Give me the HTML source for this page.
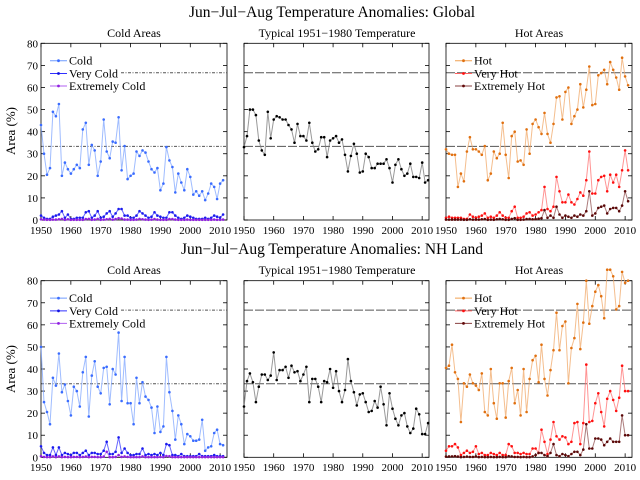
<!DOCTYPE html>
<html><head><meta charset="utf-8"><style>
html,body{margin:0;padding:0;background:#fff;}
svg{display:block;font-family:"Liberation Serif",serif;}
</style></head><body>
<svg id="chart" width="640" height="480" viewBox="0 0 640 480" xmlns="http://www.w3.org/2000/svg">
<text x="332" y="17" font-size="15.5" text-anchor="middle">Jun−Jul−Aug Temperature Anomalies: Global</text>
<text x="332" y="254" font-size="15.5" text-anchor="middle">Jun−Jul−Aug Temperature Anomalies: NH Land</text>
<text x="134" y="37" font-size="12" text-anchor="middle">Cold Areas</text>
<text x="337" y="37" font-size="12" text-anchor="middle">Typical 1951−1980 Temperature</text>
<text x="539" y="37" font-size="12" text-anchor="middle">Hot Areas</text>
<text x="134" y="274" font-size="12" text-anchor="middle">Cold Areas</text>
<text x="337" y="274" font-size="12" text-anchor="middle">Typical 1951−1980 Temperature</text>
<text x="539" y="274" font-size="12" text-anchor="middle">Hot Areas</text>
<text transform="translate(15,131) rotate(-90)" font-size="13" text-anchor="middle">Area (%)</text>
<text transform="translate(15,369) rotate(-90)" font-size="13" text-anchor="middle">Area (%)</text>
<g id="plots"></g>
</svg>
<script>
const yTicks = [0,10,20,30,40,50,60,70,80];
const xTicks = [1950,1960,1970,1980,1990,2000,2010];

const gColdVals = [43,30,20.5,23.5,49,47,52.5,20,26,23,21,23,25,23.5,41,44,25,34,31.5,20,26.5,45.5,31,28,35.5,35,46.5,22.5,33.5,18.5,20,21,31,29,31.5,30.5,26.5,23,21.5,23.5,13.5,16.5,33,27,24,12.5,21,17,13.5,23,19.5,11.5,13,11,13,9,12,16.5,15,9.5,16.5,18];
const gVeryColdVals = [2,1,0.5,0.5,1.5,2,2.5,4,1,2.5,0.5,0.5,1,1,1,3.5,4,1,2,4,1,1.5,3,4,1.5,3,5,5,2,2,1,1,2,4,3,2,1,1.5,3.5,2,1.5,1,1,3.5,3.5,2,1,0.5,1,2,1.5,1,0.5,0.5,0.5,1,0.5,1,2,1.5,1,2.5];
const gExtColdVals = [0.3,0.2,0.1,0.1,0.2,0.2,0.3,0.5,0.1,0.3,0.1,0.1,0.1,0.1,0.1,0.4,0.5,0.1,0.2,0.5,0.1,0.2,0.3,0.5,0.2,0.4,0.8,0.7,0.2,0.2,0.1,0.1,0.2,0.5,0.3,0.2,0.1,0.2,0.4,0.2,0.1,0.1,0.1,0.4,0.4,0.2,0.1,0.1,0.1,0.2,0.1,0.1,0.1,0.1,0.1,0.1,0.1,0.1,0.2,0.1,0.1,0.2];
const gTypicalVals = [33,38,50,50,47.5,36,31.5,29.5,49,37,45.5,47,46.5,45.5,45.5,43,41,35,43.5,38,38,36,44,35,31,32,37.5,37.5,28.5,36,37,38,35,36.5,29.5,22,29,34.5,30,21.5,22,30,28.5,23.5,23.5,25.5,25.5,25.5,27.5,23.5,17,25,27.5,23,20,21,25.5,19.5,19.5,19,26,17,18];
const gHotVals = [32,30,29.5,29.5,15,21,17.5,31,37.5,32,32,31,29.5,33.5,18,21,31,28,30,44,29.5,19,38,40,26.5,27,25,41,30,43.5,45.5,42,39,48.5,39,35,43.5,55.5,56,45.5,58,60,43.5,47,50,61.5,51,59,69.5,52,52.5,65.5,66.5,68,61.5,71.5,68,64.5,59,73.5,65,61];
const gVeryHotVals = [1,1.5,1,1,1,1,0.5,0.5,2.5,1.5,1,1.5,2,3,1,1.5,1,2,3.5,2,1,1,4,6,1,1,1.5,3,3.5,2,2.5,3.5,4.5,15,5,4,6,19.5,13,8,8,11.5,8,7,9.5,12.5,11,18,31,12,12,18,19.5,20,13,20.5,17,20.5,15,22.5,31.5,22.5];
const gExtHotVals = [0.2,0.2,0.2,0.2,0.2,0.2,0.1,0.1,0.3,0.2,0.2,0.2,0.3,0.4,0.1,0.2,0.1,0.3,0.5,0.3,0.1,0.1,0.5,0.8,0.1,0.1,0.2,0.4,0.5,0.3,0.4,0.6,0.8,4.5,1,2,1,6,2.5,1,2,1.5,1,2,1.5,2.5,2,4,13,2,3,5.5,6,6.5,3,5,5.5,5.5,4,6.5,13,8.5];

const nColdVals = [50,25,20.5,15,36,32.5,47,29.5,33,25.5,19,32,30,23,38.5,45.5,18.5,37,43.5,32,29,40.5,41,24,40,37.5,56.5,25.5,45.5,24.5,24.5,15,36,24.5,34,27.5,26,22.5,11,23,11.5,14,45.5,29.5,21,8,19,15,6,10.5,9.5,7.5,7.5,8,17,3,4.5,5,11,12.5,6,5.5];
const nVeryColdVals = [5,2,1,1,4.5,1,4.5,1,2,1.5,1,2,2,1,2,3,1,2,2,1.5,1.5,3,7,1.5,1.5,2.5,9,2,4,2,1,1,1.5,1.5,4,1,1.5,1,1.5,1,2,1,6,5.5,1,1,0.5,1.5,0.5,0.5,0.5,0.5,0.5,1.5,0.5,0.5,0.5,0.5,1,0.5,0.5,0.5];
const nExtColdVals = [0.5,0.2,0.1,0.1,0.4,0.1,0.4,0.1,0.2,0.1,0.1,0.2,0.2,0.1,0.2,0.3,0.1,0.2,0.2,0.1,0.1,0.3,2.5,0.1,0.1,0.2,1,0.2,0.4,0.2,0.1,0.1,0.1,0.1,0.4,0.1,0.1,0.1,0.1,0.1,0.2,0.1,0.6,0.5,0.1,0.1,0.1,0.1,0.1,0.1,0.1,0.1,0.1,0.1,0.1,0.1,0.1,0.1,0.1,0.1,0.1,0.1];
const nTypicalVals = [23,34.5,38,34,25,32,37.5,37.5,35,37,47.5,35,39.5,39.5,41,36,41.5,38.5,39,34.5,37.5,41,25,35.5,35.5,32,25,34.5,34,40,31.5,39,30,25,30.5,44.5,34.5,29.5,23.5,28.5,29,25,20.5,21,25.5,22.5,32,24,14.5,29,22,17.5,14.5,19,20,14,11,13,22,19.5,10.5,10.5,15.5];
const nHotVals = [40.5,41.5,51,38.5,35.5,16,33.5,32,37.5,33.5,32.5,30.5,38,20.5,19,40,24.5,17.5,33.5,33.5,18,34.5,40.5,24.5,30.5,19,40,20.5,35.5,44,46,34,51,35.5,28,39.5,48.5,65.5,48.5,59.5,61.5,33.5,49.5,54,69.5,49,61,80,60.5,68.5,75,78,73,63,85,85,82,67,68.5,84,79,80];
const nVeryHotVals = [3,5,5,6,4.5,1,2,3,2,2.5,5,1.5,2,1,1,2,1.5,1,2,1,1,6,5,2,2,1.5,2,1.5,1.5,4,4,2,12.5,7,1.5,8,16,9.5,8,9.5,9,6,7,15.5,16,6,15.5,42,16,16.5,24.5,29,20.5,14,26.5,30,26,21,27,41.5,30,30];
const nExtHotVals = [0.3,0.4,0.4,0.5,0.3,0.1,0.2,0.3,0.2,0.2,0.4,0.1,0.2,0.1,0.1,0.2,0.1,0.1,0.2,0.1,0.1,0.5,0.4,0.2,0.2,0.1,0.2,0.1,0.1,0.4,1,2,2,1,0.5,2,6,1,0.5,1.5,1,0.5,1.5,2.5,2.5,1,3.5,15,4,4,8.5,8.5,8,5.5,7,8.5,7,7,7,19,10,10];

const NS = "http://www.w3.org/2000/svg";
const plots = document.getElementById('plots');
function mk(tag, attrs, parent){
  const e = document.createElementNS(NS, tag);
  for (const k in attrs) e.setAttribute(k, attrs[k]);
  (parent||plots).appendChild(e);
  return e;
}

const rows = [{top:43.3, bottom:220.0, labelY:234},{top:280.7, bottom:457.3, labelY:471}];
const cols = [{x0:41, x1:227},{x0:244, x1:429},{x0:446, x1:632}];
const YEAR0 = 1950, YEAR1 = 2012.3;

function xScale(col, yr){ return col.x0 + (yr-YEAR0)/(YEAR1-YEAR0)*(col.x1-col.x0); }
function yScale(row, v){ return row.bottom - v/80*(row.bottom-row.top); }

function drawSeries(row, col, vals, lineColor, markColor, name){
  const g = mk('g', {});
  
  
  const pts = vals.map((v,i)=>[xScale(col, YEAR0+i), yScale(row, v)]);
  const pl = mk('polyline', {points: pts.map(p=>p[0].toFixed(1)+','+p[1].toFixed(1)).join(' '), fill:'none', stroke:lineColor, 'stroke-width':1, 'stroke-opacity':0.75}, g);
  
  
  pts.forEach((p)=>{
    const c = mk('circle', {cx:p[0].toFixed(1), cy:p[1].toFixed(1), r:1.3, fill:markColor}, g);
    
    
  });
}

function drawFrame(row, col, ri, ci, dashStyle, skipUpper){
  [33.33, 66.67].forEach(v=>{
    if (skipUpper && v > 50) return;
    const l = mk('line', {x1:col.x0, x2:col.x1, y1:yScale(row,v), y2:yScale(row,v), stroke:'#555', 'stroke-width':1, 'stroke-dasharray':dashStyle});
    
    
  });
  const r = mk('rect', {x:col.x0, y:row.top, width:col.x1-col.x0, height:row.bottom-row.top, fill:'none', stroke:'#000', 'stroke-width':0.8});
  
  
  yTicks.forEach(t=>{
    const y = yScale(row, t);
    mk('line', {x1:col.x0, x2:col.x0+4, y1:y, y2:y, stroke:'#000', 'stroke-width':0.8});
    mk('line', {x1:col.x1-4, x2:col.x1, y1:y, y2:y, stroke:'#000', 'stroke-width':0.8});
    if (ci===0){
      const tx = mk('text', {x:col.x0-3, y:y+4, 'font-size':11, 'text-anchor':'end'});
      tx.textContent = String(t);
      
      
    }
  });
  xTicks.forEach(t=>{
    const x = xScale(col, t);
    mk('line', {x1:x, x2:x, y1:row.bottom, y2:row.bottom-4, stroke:'#000', 'stroke-width':0.8});
    mk('line', {x1:x, x2:x, y1:row.top, y2:row.top+4, stroke:'#000', 'stroke-width':0.8});
    const tx = mk('text', {x:x, y:row.labelY, 'font-size':11, 'text-anchor':'middle'});
    tx.textContent = String(t);
    
    
  });
}

function drawLegend(row, col, items){
  const lx0 = col.x0 + 9, lx1 = col.x0 + 26;
  const offs = [17.4, 30.2, 42.7];
  items.forEach((it, i)=>{
    const y = row.top + offs[i];
    const g = mk('g', {});
    
    
    mk('line', {x1:lx0, x2:lx1, y1:y, y2:y, stroke:it[1], 'stroke-width':1}, g);
    mk('circle', {cx:(lx0+lx1)/2, cy:y, r:1.4, fill:it[2]}, g);
    const tx = mk('text', {x:lx1+2, y:y+4, 'font-size':12}, g);
    tx.textContent = it[0];
  });
}

const dashA = '3,1.5,1,1.5';
const dashB = '9,2';
rows.forEach((row, ri)=>{
  const pre = ri===0 ? 'global' : 'nh';
  const d = ri===0
    ? {c:gColdVals, vc:gVeryColdVals, ec:gExtColdVals, t:gTypicalVals, h:gHotVals, vh:gVeryHotVals, eh:gExtHotVals}
    : {c:nColdVals, vc:nVeryColdVals, ec:nExtColdVals, t:nTypicalVals, h:nHotVals, vh:nVeryHotVals, eh:nExtHotVals};
  drawFrame(row, cols[0], ri, 0, dashA, true);
  const l2 = mk('line', {x1:cols[0].x0+80, x2:cols[0].x1, y1:yScale(row,66.67), y2:yScale(row,66.67), stroke:'#555', 'stroke-width':1, 'stroke-dasharray':dashA});
  
  
  drawLegend(row, cols[0], [['Cold','#6f9bff','#3a6cff'],['Very Cold','#3030ff','#1010e0'],['Extremely Cold','#b060f0','#9020e0']]);
  drawSeries(row, cols[0], d.c, '#7fa6ff', '#3a6cff', pre+'-cold-series');
  drawSeries(row, cols[0], d.vc, '#3333ff', '#1a1aee', pre+'-very-cold-series');
  drawSeries(row, cols[0], d.ec, '#b070f0', '#9020e0', pre+'-extremely-cold-series');
  drawFrame(row, cols[1], ri, 1, dashB, false);
  drawSeries(row, cols[1], d.t, '#777', '#000', pre+'-typical-series');
  drawFrame(row, cols[2], ri, 2, dashB, false);
  drawLegend(row, cols[2], [['Hot','#f0a050','#e07010'],['Very Hot','#ff6060','#ff1010'],['Extremely Hot','#8a4040','#600808']]);
  drawSeries(row, cols[2], d.h, '#f0a868', '#e07010', pre+'-hot-series');
  drawSeries(row, cols[2], d.vh, '#ff7070', '#ff1010', pre+'-very-hot-series');
  drawSeries(row, cols[2], d.eh, '#905050', '#5a0808', pre+'-extremely-hot-series');
});
</script>
</body></html>
